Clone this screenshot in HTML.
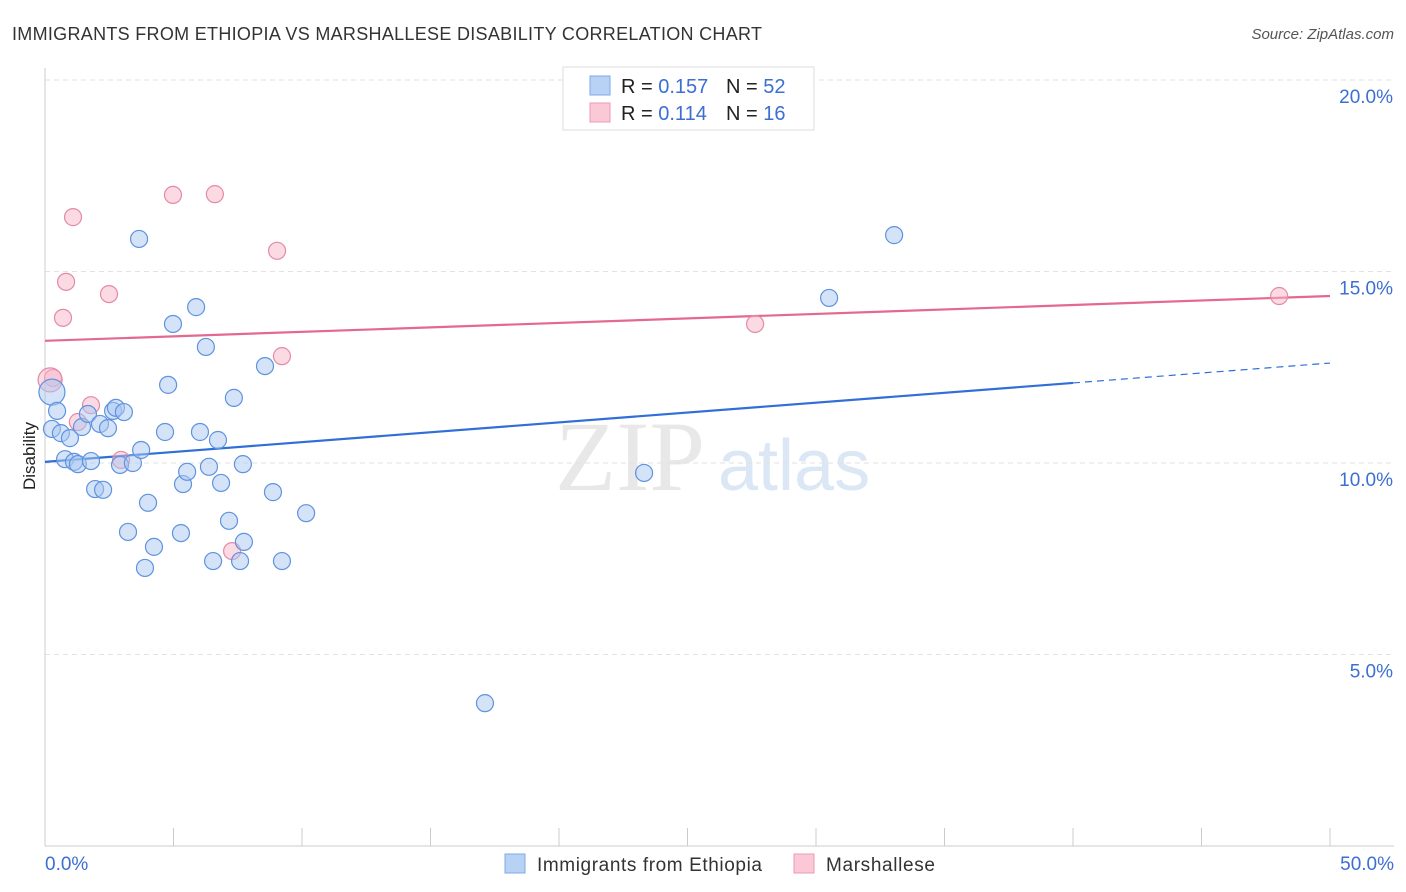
<!DOCTYPE html>
<html><head><meta charset="utf-8"><style>
body{margin:0;background:#fff;font-family:"Liberation Sans",sans-serif;}
svg{display:block}
</style></head><body>
<svg id="chart" width="1406" height="892">
<text x="12" y="40" font-size="18" fill="#333" textLength="750" lengthAdjust="spacing">IMMIGRANTS FROM ETHIOPIA VS MARSHALLESE DISABILITY CORRELATION CHART</text>
<text x="1394" y="39" font-size="15" fill="#555" font-style="italic" text-anchor="end">Source: ZipAtlas.com</text>
<text x="35" y="456" font-size="17" fill="#222" transform="rotate(-90 35 456)" text-anchor="middle">Disability</text>
<text x="555" y="490" font-size="100" fill="#e8e8e8" font-family="Liberation Serif,serif">ZIP</text>
<text x="718" y="490" font-size="72" fill="#dce7f6">atlas</text>
<g id="grid"></g><g id="axes"></g><g id="trends"></g><g id="points"></g>
<g>
<rect x="563" y="67" width="251" height="63" fill="#fff" stroke="#ddd"/>
<rect x="590" y="76" width="20" height="19" fill="#b8d2f5" stroke="#7fa9e6"/>
<rect x="590" y="103" width="20" height="19" fill="#fbc8d7" stroke="#eb9ab4"/>
<text x="621" y="93" font-size="20" fill="#222">R = <tspan fill="#3c6fd1">0.157</tspan></text>
<text x="726" y="93" font-size="20" fill="#222">N = <tspan fill="#3c6fd1">52</tspan></text>
<text x="621" y="120" font-size="20" fill="#222">R =  <tspan fill="#3c6fd1">0.114</tspan></text>
<text x="726" y="120" font-size="20" fill="#222">N =  <tspan fill="#3c6fd1">16</tspan></text>
</g>
<g>
<rect x="505" y="854" width="20" height="19" fill="#b8d2f5" stroke="#7fa9e6"/>
<text x="537" y="871" font-size="19" fill="#333" textLength="225" lengthAdjust="spacing">Immigrants from Ethiopia</text>
<rect x="794" y="854" width="20" height="19" fill="#fbc8d7" stroke="#eb9ab4"/>
<text x="826" y="871" font-size="19" fill="#333" textLength="109" lengthAdjust="spacing">Marshallese</text>
</g>
</svg>
<script>
const blueX=[.27,.47,.27,.62,.97,.78,1.13,1.28,1.44,1.67,1.79,1.95,2.26,2.14,2.45,2.65,2.76,3.07,2.92,3.42,3.66,3.74,4.01,3.23,4.24,3.89,4.79,4.67,4.98,5.37,5.53,5.29,5.88,6.03,6.26,6.38,6.73,6.85,6.54,7.16,7.35,7.70,7.74,7.59,8.56,8.87,9.22,10.16,17.12,23.31,30.51,33.04];
const blueY=[11.85,11.36,10.89,10.78,10.65,10.10,10.03,9.97,10.94,11.28,10.05,9.32,9.30,11.02,10.91,11.36,11.44,11.33,9.95,10.00,15.85,10.34,8.96,8.20,7.81,7.26,12.04,10.81,13.63,9.45,9.77,8.17,14.07,10.81,13.03,9.90,10.60,9.48,7.44,8.49,11.70,9.97,7.94,7.44,12.53,9.24,7.44,8.69,3.73,9.74,14.31,15.95];
const pinkX=[1.09,.82,.70,2.49,4.98,6.61,9.03,9.22,.31,1.79,1.28,2.96,7.28,27.63,48.02,.2];
const pinkY=[16.42,14.73,13.79,14.41,17.00,17.02,15.54,12.79,12.22,11.51,11.07,10.08,7.70,13.63,14.36,12.17];
const blueTrend=[10.03,12.09,12.61]; // y at x=0, 40, 50
const pinkTrend=[13.19,14.36];
const yTicks=[5,10,15,20];
const xTickLabels=["0.0%","50.0%"];
const NS="http://www.w3.org/2000/svg";
const sx=v=>45+v/50*1285, sy=v=>846-v/5*191.5;
function mk(p,t,a){const e=document.createElementNS(NS,t);for(const k in a)e.setAttribute(k,a[k]);p.appendChild(e);return e;}
const grid=document.getElementById('grid'),axes=document.getElementById('axes'),tr=document.getElementById('trends'),pts=document.getElementById('points');
yTicks.forEach(t=>{
const l=mk(grid,'line',{x1:45,x2:1394,y1:sy(t),y2:sy(t),stroke:'#e2e2e2','stroke-dasharray':'5,4'});


const tx=mk(axes,'text',{x:1393,y:sy(t)+23,'font-size':19,fill:'#3c6fd1','text-anchor':'end'});
tx.textContent=t.toFixed(1)+'%';


});
mk(axes,'line',{x1:45,x2:45,y1:68,y2:846,stroke:'#ccc'});
mk(axes,'line',{x1:45,x2:1394,y1:846,y2:846,stroke:'#ccc'});
for(let i=0;i<=10;i++){const x=sx(i*5);mk(axes,'line',{x1:x,x2:x,y1:828,y2:846,stroke:'#ccc'});}
const xl=mk(axes,'text',{x:45,y:870,'font-size':19,fill:'#3c6fd1'});xl.textContent=xTickLabels[0];


const xr=mk(axes,'text',{x:1394,y:870,'font-size':19,fill:'#3c6fd1','text-anchor':'end'});xr.textContent=xTickLabels[1];


function dot(x,y,fill,stroke,name,r){const c=mk(pts,'circle',{cx:sx(x),cy:sy(y),r:r,fill:fill,'fill-opacity':0.5,stroke:stroke,'stroke-width':1.2});

}
pinkX.forEach((x,i)=>dot(x,pinkY[i],'#f7b6ca','#e58aa6','marshallese-point',i==15?12:8.5));
blueX.forEach((x,i)=>dot(x,blueY[i],'#a9c8f2','#5f93df','ethiopia-point',i==0?13:8.5));
const b1=mk(tr,'line',{x1:sx(0),y1:sy(blueTrend[0]),x2:sx(40),y2:sy(blueTrend[1]),stroke:'#2f6fd6','stroke-width':2.2});


const b2=mk(tr,'line',{x1:sx(40),y1:sy(blueTrend[1]),x2:sx(50),y2:sy(blueTrend[2]),stroke:'#2f6fd6','stroke-width':1.2,'stroke-dasharray':'7,5'});


const p1=mk(tr,'line',{x1:sx(0),y1:sy(pinkTrend[0]),x2:sx(50),y2:sy(pinkTrend[1]),stroke:'#e4698f','stroke-width':2.2});


</script>
</body></html>
